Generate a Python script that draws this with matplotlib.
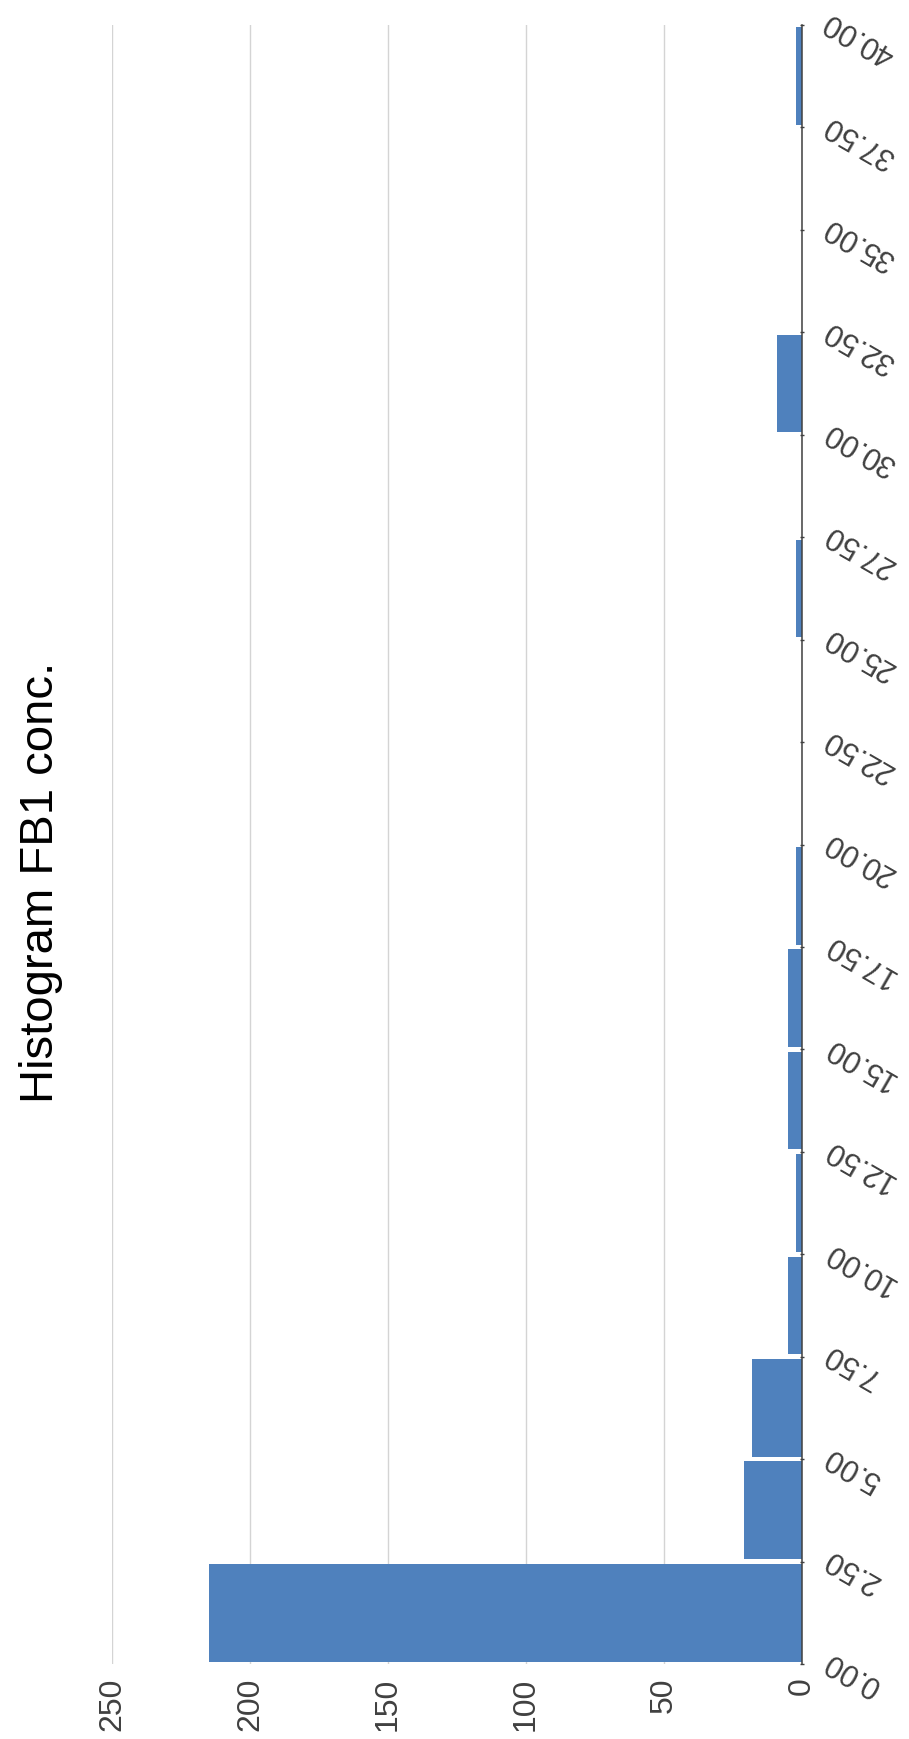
import matplotlib
matplotlib.use("Agg")
import matplotlib.pyplot as plt
from matplotlib.transforms import offset_copy

# Histogram data: bin edges, their labels and the count in each bin
bin_edges = [0.0, 2.5, 5.0, 7.5, 10.0, 12.5, 15.0, 17.5, 20.0,
             22.5, 25.0, 27.5, 30.0, 32.5, 35.0, 37.5, 40.0]
edge_labels = ["0.00", "2.50", "5.00", "7.50", "10.00", "12.50", "15.00",
               "17.50", "20.00", "22.50", "25.00", "27.50", "30.00",
               "32.50", "35.00", "37.50", "40.00"]
counts = [215, 21, 18, 5, 2, 5, 5, 2, 0, 0, 2, 0, 9, 0, 0, 2]
count_ticks = [0, 50, 100, 150, 200, 250]
title = "Histogram FB1 conc."

plt.rcParams['font.family'] = ['Liberation Sans', 'DejaVu Sans']

W, H = 909, 1740
fig = plt.figure(figsize=(W / 100, H / 100), dpi=100)
fig.patch.set_facecolor('white')
ax = fig.add_axes([112 / W, 75 / H, 690 / W, 1639 / H])

centers = [(a + b) / 2 for a, b in zip(bin_edges[:-1], bin_edges[1:])]
bin_width = bin_edges[1] - bin_edges[0]
ax.barh(centers, counts, height=bin_width * 0.954, color='#4F81BD', zorder=2)

ax.set_xlim(count_ticks[-1], 0)
ax.set_ylim(bin_edges[0], bin_edges[-1])
ax.set_xticks(count_ticks)
ax.xaxis.grid(True, color='#d4d4d4', lw=1.0)
ax.set_axisbelow(True)

for side in ['top', 'left', 'bottom']:
    ax.spines[side].set_visible(False)
ax.spines['right'].set_color('#404040')
ax.spines['right'].set_linewidth(1.1)
ax.spines['right'].set_zorder(3)

ax.tick_params(axis='x', length=0, labelsize=23, labelcolor='#404040',
               labelrotation=90, pad=9)

ax.yaxis.tick_right()
ax.set_yticks(bin_edges)
ax.set_yticklabels([])
ax.tick_params(axis='y', direction='inout', length=3, color='#404040', width=1)

# Slanted bin-edge labels beside the count axis
trans = offset_copy(ax.get_yaxis_transform(), fig=fig, x=24, y=7, units='dots')
for e, lab in zip(bin_edges, edge_labels):
    ax.text(1.0, e, lab, transform=trans, rotation=150, rotation_mode='anchor',
            ha='right', va='center', fontsize=22, color='#404040', clip_on=False)

fig.text(0.045, 0.493, title, rotation=90, ha='center', va='center',
         fontsize=34, color='black')

fig.savefig('out.png', dpi=100, facecolor='white')
